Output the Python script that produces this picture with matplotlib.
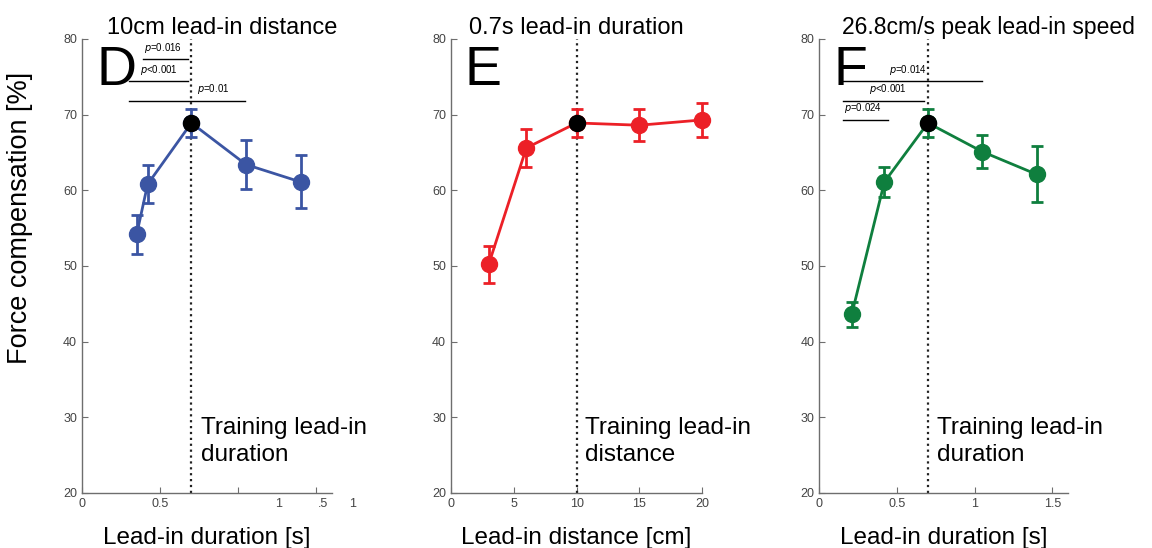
import matplotlib.pyplot as plt
import numpy as np

plt.rcParams['font.family'] = ['Liberation Sans', 'DejaVu Sans']

# panel D: lead-in duration at 10cm distance
dur_d = [0.35, 0.42, 0.70, 1.05, 1.40]
fc_d = [54.2, 60.8, 68.9, 63.4, 61.1]
err_d = [2.6, 2.5, 1.9, 3.2, 3.5]

# panel E: lead-in distance at 0.7s duration
dist_e = [3, 6, 10, 15, 20]
fc_e = [50.2, 65.6, 68.9, 68.6, 69.3]
err_e = [2.5, 2.5, 1.9, 2.1, 2.3]

# panel F: lead-in duration at 26.8cm/s peak speed
dur_f = [0.21, 0.42, 0.70, 1.05, 1.40]
fc_f = [43.6, 61.1, 68.9, 65.1, 62.1]
err_f = [1.7, 2.0, 1.9, 2.2, 3.7]

# significance bars: (x0, x1, y, label, label_x)
sig_d = [(0.39, 0.68, 77.3, '0.016', 0.52),
         (0.30, 0.68, 74.4, '<0.001', 0.49),
         (0.30, 1.04, 71.8, '0.01', 0.84)]
sig_f = [(0.154, 1.046, 74.4, '0.014', 0.57),
         (0.154, 0.675, 71.8, '<0.001', 0.44),
         (0.154, 0.44, 69.3, '0.024', 0.28)]

blue = '#3b55a3'
red = '#ec2027'
green = '#0f7f3e'
gray = '#6e6e6e'

fig = plt.figure(figsize=(11.52, 5.48), dpi=100)
ax_d = fig.add_axes([0.0712, 0.1004, 0.217, 0.8285])
ax_e = fig.add_axes([0.3915, 0.1004, 0.218, 0.8285])
ax_f = fig.add_axes([0.711, 0.1004, 0.216, 0.8285])


def draw(ax, x, y, err, col, train_idx, train_x):
    ax.errorbar(x, y, yerr=err, color=col, lw=2.0, elinewidth=2.0,
                capsize=4, capthick=2.0, marker='o', ms=11.5,
                mfc=col, mec=col, zorder=3, clip_on=False)
    ax.plot(x[train_idx], y[train_idx], 'o', color='black', ms=11.5,
            zorder=4, clip_on=False)
    ax.axvline(train_x, color='#222222', ls=':', lw=1.6, zorder=2)
    ax.set_ylim(20, 80)
    ax.set_yticks(np.arange(20, 81, 10))
    for s in ['top', 'right']:
        ax.spines[s].set_visible(False)
    for s in ['left', 'bottom']:
        ax.spines[s].set_color(gray)
        ax.spines[s].set_linewidth(1.0)
    ax.tick_params(direction='in', length=4, width=0.8, colors=gray,
                   labelsize=9, labelcolor='#444444')


def sig(ax, bars):
    for x0, x1, yy, lab, lx in bars:
        ax.plot([x0, x1], [yy, yy], color='black', lw=1.0, zorder=5)
        ax.text(lx, yy + 0.6, r'$p$' + '=' * (lab[0] != '<') + lab,
                fontsize=7, ha='center', va='bottom')


lab_kw = dict(fontsize=17.5, labelpad=12)
train_kw = dict(fontsize=17.5, va='center', linespacing=1.25)

draw(ax_d, dur_d, fc_d, err_d, blue, 2, 0.70)
ax_d.set_xticks([0, 0.5, 1.0, 1.5], ['0', '0.5', '', ''])
ax_d.set_xticks([1.26, 1.54], ['1', '.5'], minor=True)
ax_d.tick_params(axis='x', which='minor', length=0, labelsize=9,
                 labelcolor='#444444')
ax_d.set_xlim(0, 1.6)
ax_d.text(1.73, 19.3, '1', fontsize=9, color='#444444', ha='center', va='top')
ax_d.set_xlabel('Lead-in duration [s]', **lab_kw)
ax_d.set_ylabel('Force compensation [%]', fontsize=19.5)
ax_d.yaxis.set_label_coords(-0.196, 0.606)
ax_d.set_title('10cm lead-in distance', fontsize=17, pad=3, x=0.56)
ax_d.text(0.09, 73.9, 'D', fontsize=40)
ax_d.text(0.76, 26.8, 'Training lead-in\nduration', **train_kw)
sig(ax_d, sig_d)

draw(ax_e, dist_e, fc_e, err_e, red, 2, 10)
ax_e.set_xticks([0, 5, 10, 15, 20])
ax_e.set_xlim(0, 20)
ax_e.set_xlabel('Lead-in distance [cm]', **lab_kw)
ax_e.set_title('0.7s lead-in duration', fontsize=17, pad=3)
ax_e.text(1.1, 73.9, 'E', fontsize=40)
ax_e.text(10.7, 26.8, 'Training lead-in\ndistance', **train_kw)

draw(ax_f, dur_f, fc_f, err_f, green, 2, 0.70)
ax_f.set_xticks([0, 0.5, 1.0, 1.5], ['0', '0.5', '1', '1.5'])
ax_f.set_xlim(0, 1.6)
ax_f.set_xlabel('Lead-in duration [s]', **lab_kw)
ax_f.set_title('26.8cm/s peak lead-in speed', fontsize=16.5, pad=3, x=0.68)
ax_f.text(0.09, 73.9, 'F', fontsize=40)
ax_f.text(0.76, 26.8, 'Training lead-in\nduration', **train_kw)
sig(ax_f, sig_f)

fig.savefig('out.png', dpi=100)
